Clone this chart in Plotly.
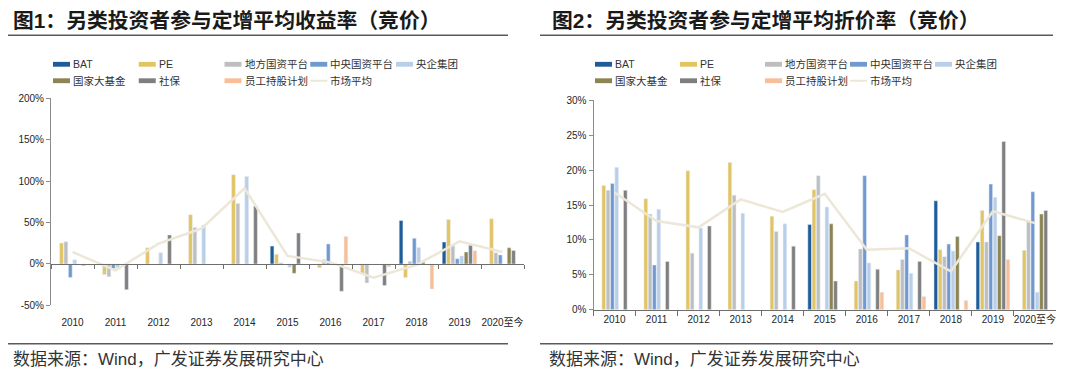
import plotly.graph_objects as go

# The page body has an 8px margin, so the figure is drawn 8px in from the top-left.
VW, VH = 1080, 381
OFF = 8
W, H = VW - 2 * OFF, VH - 2 * OFF


def px(x):
    return (x - OFF) / W


def py(y):
    return (H - (y - OFF)) / H


years = ["2010", "2011", "2012", "2013", "2014", "2015", "2016", "2017", "2018", "2019", "2020至今"]
names = ["BAT", "PE", "地方国资平台", "中央国资平台", "央企集团", "国家大基金", "社保", "员工持股计划"]
avg_name = "市场平均"
colors = ["#1F5C99", "#E3C463", "#BEBEBE", "#7199CF", "#B9CFE8", "#8C8452", "#7F7F7F", "#F8BE98"]
avg_color = "#EDE7D8"

# Chart 1: average return (%)
ret_bat = [None, None, None, None, None, 21.5, None, None, 52.4, 26.4, None]
ret_pe = [25.2, -12.8, 19.4, 59.4, 107.6, 11.7, -4.7, -11.7, -16.3, 53.6, 54.4]
ret_local = [26.8, -15.5, None, 43.9, 73.0, 1.5, 5.4, -22.9, 3.1, 22.1, 13.6]
ret_central = [-16.3, -5.8, None, None, None, None, 24.1, None, 31.0, 6.2, 10.9]
ret_soe = [5.0, -4.7, 13.6, 47.0, 105.6, -3.9, None, -0.8, 19.8, 9.7, None]
ret_fund = [None, None, None, None, None, -11.3, None, None, 2.0, 14.4, 19.4]
ret_ss = [-2.0, -31.0, 35.0, None, 69.9, 37.3, -33.0, -26.0, None, 22.5, 16.3]
ret_esop = [None, None, None, None, None, None, 33.0, -3.5, -30.3, 15.9, None]
ret_avg = [14.4, -7.8, 24.5, 42.7, 91.3, 9.7, 1.9, -16.7, -1.2, 27.2, 14.4]

# Chart 2: average discount (%)
dis_bat = [None, None, None, None, None, 12.2, None, None, 15.6, 9.7, None]
dis_pe = [17.8, 15.9, 19.9, 21.1, 13.4, 17.2, 4.1, 5.7, 8.6, 14.2, 8.5]
dis_local = [17.1, 13.7, 8.1, 16.4, 11.2, 19.2, 8.7, 7.2, 7.6, 9.7, 12.6]
dis_central = [18.1, 6.4, None, None, None, None, 19.2, 10.7, 9.4, 18.0, 16.9]
dis_soe = [20.4, 14.4, 11.7, 13.8, 12.3, 14.7, 6.7, 5.2, 8.4, 16.1, 2.5]
dis_fund = [None, None, None, None, None, 12.3, None, None, 10.5, 10.6, 13.7]
dis_ss = [17.1, 6.9, 12.0, None, 9.1, 4.1, 5.8, 6.9, None, 24.1, 14.2]
dis_esop = [None, None, None, None, None, None, 2.5, 1.9, 1.3, 7.2, None]
dis_avg = [16.8, 12.7, 11.8, 15.8, 14.0, 16.6, 8.6, 8.8, 5.5, 14.1, 12.4]

ret_series = [ret_bat, ret_pe, ret_local, ret_central, ret_soe, ret_fund, ret_ss, ret_esop]
dis_series = [dis_bat, dis_pe, dis_local, dis_central, dis_soe, dis_fund, dis_ss, dis_esop]

y1_ticks = [-50, 0, 50, 100, 150, 200]
y1_labels = ["-50%", "0%", "50%", "100%", "150%", "200%"]
y2_ticks = [0, 5, 10, 15, 20, 25, 30]
y2_labels = ["0%", "5%", "10%", "15%", "20%", "25%", "30%"]

FONT = "Liberation Sans, Arial, Noto Sans CJK SC"
TXT = "#262626"

fig = go.Figure()

for i, (nm, vals) in enumerate(zip(names, ret_series)):
    fig.add_trace(go.Bar(x=years, y=vals, name=nm, marker_color=colors[i],
                         xaxis="x", yaxis="y", showlegend=False))
fig.add_trace(go.Scatter(x=years, y=ret_avg, name=avg_name, mode="lines",
                         line=dict(color=avg_color, width=2.5),
                         xaxis="x3", yaxis="y", showlegend=False))

for i, (nm, vals) in enumerate(zip(names, dis_series)):
    fig.add_trace(go.Bar(x=years, y=vals, name=nm, marker_color=colors[i],
                         xaxis="x2", yaxis="y2", showlegend=False))
fig.add_trace(go.Scatter(x=years, y=dis_avg, name=avg_name, mode="lines",
                         line=dict(color=avg_color, width=2.5),
                         xaxis="x2", yaxis="y2", showlegend=False))

# plot-area domains, from screen pixels
x1d = [px(51), px(524)]
x2d = [px(593.5), px(1056)]
y1d = [py(309.3), py(95)]
y2d = [py(313.7), py(97.3)]
zero_pos = y1d[0] + (0 - (-50)) / 250 * (y1d[1] - y1d[0])

axis_line = "#8C8C8C"
base_line = "#6E6E6E"
tickfont = dict(family=FONT, size=10, color=TXT)

fig.update_layout(
    width=W, height=H,
    margin=dict(l=0, r=0, t=0, b=0, pad=0),
    paper_bgcolor="white", plot_bgcolor="white",
    barmode="group", bargap=0.18, bargroupgap=0.15,
    font=dict(family=FONT, color=TXT),
    showlegend=False,
    xaxis=dict(domain=x1d, anchor="y", type="category", categoryorder="array",
               categoryarray=years, range=[-0.5, 10.5], showline=False,
               ticks="outside", ticklen=8, tickcolor="rgba(0,0,0,0)", tickangle=0,
               showgrid=False, zeroline=False, tickfont=tickfont),
    xaxis3=dict(domain=x1d, overlaying="x", anchor="free", position=zero_pos,
                type="category", categoryorder="array", categoryarray=years,
                range=[-0.5, 10.5], showline=True, linecolor=base_line, linewidth=1,
                ticks="outside", ticklen=4, tickcolor=base_line, tickson="boundaries",
                showticklabels=False, showgrid=False, zeroline=False),
    yaxis=dict(domain=y1d, anchor="x", range=[-50, 200], tickmode="array",
               tickvals=y1_ticks, ticktext=y1_labels,
               showline=True, linecolor=axis_line, linewidth=1,
               ticks="outside", ticklen=4, tickcolor=axis_line,
               showgrid=False, zeroline=False, tickfont=tickfont),
    xaxis2=dict(domain=x2d, anchor="y2", type="category", categoryorder="array",
                categoryarray=years, range=[-0.5, 10.5], showline=True,
                linecolor=base_line, linewidth=1, ticks="outside", ticklen=5,
                tickcolor=base_line, tickson="boundaries", tickangle=0,
                showgrid=False, zeroline=False, tickfont=tickfont),
    yaxis2=dict(domain=y2d, anchor="x2", range=[0, 30], tickmode="array",
                tickvals=y2_ticks, ticktext=y2_labels,
                showline=True, linecolor=axis_line, linewidth=1,
                ticks="outside", ticklen=4, tickcolor=axis_line,
                showgrid=False, zeroline=False, tickfont=tickfont),
)

annotations = []
shapes = []

# legends (two rows of five columns on each chart)
legfont = dict(family=FONT, size=10.5, color="#333333")
leg_entries = list(zip(names, colors)) + [(avg_name, avg_color)]
for left0, step in ((53, 85.75), (595, 85.0)):
    for k, (nm, col) in enumerate(leg_entries):
        row, c = divmod(k, 5)
        sx = left0 + c * step
        sy = 60 + row * 17
        if nm == avg_name:
            shapes.append(dict(type="line", xref="paper", yref="paper",
                               x0=px(sx), x1=px(sx + 17), y0=py(sy), y1=py(sy),
                               line=dict(color=col, width=2)))
        else:
            shapes.append(dict(type="rect", xref="paper", yref="paper",
                               x0=px(sx), x1=px(sx + 17), y0=py(sy - 2.5), y1=py(sy + 2.5),
                               fillcolor=col, line=dict(width=0)))
        annotations.append(dict(text=nm, x=px(sx + 19), y=py(sy), xref="paper", yref="paper",
                                xanchor="left", yanchor="middle", showarrow=False,
                                font=legfont, borderpad=0))

# titles, rules, sources
title_font = dict(family=FONT, size=20.8, color="#1A1A1A", weight="bold")
src_font = dict(family=FONT, size=17, color="#333333")
annotations += [
    dict(text="图1：另类投资者参与定增平均收益率（竞价）", x=px(12), y=py(15),
         xref="paper", yref="paper", xanchor="left", yanchor="middle",
         showarrow=False, font=title_font, borderpad=0),
    dict(text="图2：另类投资者参与定增平均折价率（竞价）", x=px(551), y=py(15),
         xref="paper", yref="paper", xanchor="left", yanchor="middle",
         showarrow=False, font=title_font, borderpad=0),
    dict(text="数据来源：Wind，广发证券发展研究中心", x=px(12), y=py(365),
         xref="paper", yref="paper", xanchor="left", yanchor="middle",
         showarrow=False, font=src_font, borderpad=0),
    dict(text="数据来源：Wind，广发证券发展研究中心", x=px(548), y=py(365),
         xref="paper", yref="paper", xanchor="left", yanchor="middle",
         showarrow=False, font=src_font, borderpad=0),
]

rule = dict(color="#5A5A5A", width=1.5)
for x0, x1 in ((OFF, 508), (540, 1053)):
    for yy in (30, 349):
        shapes.append(dict(type="line", xref="paper", yref="paper", x0=px(x0), x1=px(x1),
                           y0=py(yy), y1=py(yy), line=rule))

fig.update_layout(annotations=annotations, shapes=shapes)

fig.write_html("out.html")
